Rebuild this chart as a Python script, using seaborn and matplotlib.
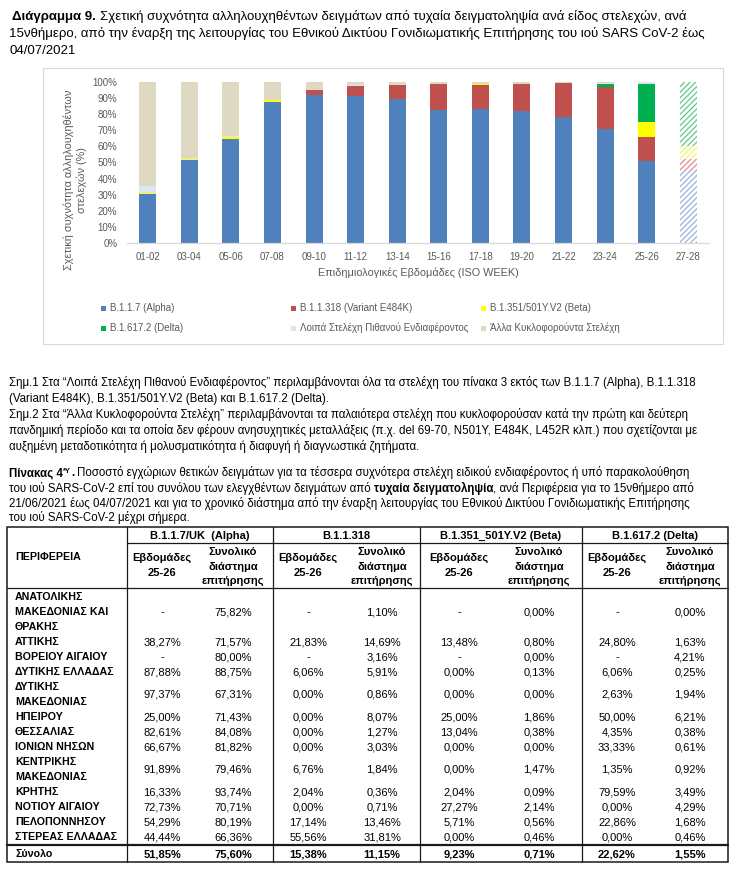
import matplotlib
matplotlib.use("Agg")
import matplotlib.pyplot as plt
from matplotlib.patches import Rectangle
import numpy as np
import pandas as pd
import seaborn as sns

# ---- chart data: share of sequenced samples per 2-week period (%) ----
weeks = ['01-02', '03-04', '05-06', '07-08', '09-10', '11-12', '13-14',
         '15-16', '17-18', '19-20', '21-22', '23-24', '25-26', '27-28']
alpha = [30.6, 51.3, 64.8, 87.6, 91.9, 91.5, 89.4, 82.6, 83.2, 82.0, 78.0, 70.8, 50.9, 44.5]
e484k = [0, 0, 0, 0, 3.3, 6.2, 8.9, 16.4, 15.1, 16.6, 21.1, 25.9, 14.7, 7.9]
beta = [0.6, 0.8, 1.0, 1.2, 0, 0, 0, 0, 0.6, 0, 0, 0.4, 9.3, 7.7]
delta = [0, 0, 0, 0, 0, 0, 0, 0, 0, 0, 0, 1.9, 23.8, 39.9]
other_interest = [4.0, 0.7, 0.7, 0.2, 0, 0.3, 0, 0, 0, 0, 0, 0.5, 1.3, 0]
other_circ = [64.8, 47.2, 33.5, 11.0, 4.8, 2.0, 1.7, 1.0, 1.1, 1.4, 0.9, 0.5, 0, 0]

series_names = ['B.1.1.7 (Alpha)', 'B.1.1.318 (Variant E484K)', 'B.1.351/501Y.V2 (Beta)',
                'B.1.617.2 (Delta)', 'Λοιπά Στελέχη Πιθανού Ενδιαφέροντος',
                'Άλλα Κυκλοφορούντα Στελέχη']
series_colors = ['#4F81BD', '#C0504D', '#FFFF00', '#00B050', '#DCE6F2', '#DDD9C3']
hatch_colors = ['#95B3D7', '#E6898A', '#F5F56A', '#5CC98E', '#DCE6F2', '#DDD9C3']

# ---- table data ----
regions = ['ΑΝΑΤΟΛΙΚΗΣ\nΜΑΚΕΔΟΝΙΑΣ ΚΑΙ\nΘΡΑΚΗΣ', 'ΑΤΤΙΚΗΣ', 'ΒΟΡΕΙΟΥ ΑΙΓΑΙΟΥ',
           'ΔΥΤΙΚΗΣ ΕΛΛΑΔΑΣ', 'ΔΥΤΙΚΗΣ\nΜΑΚΕΔΟΝΙΑΣ', 'ΗΠΕΙΡΟΥ', 'ΘΕΣΣΑΛΙΑΣ',
           'ΙΟΝΙΩΝ ΝΗΣΩΝ', 'ΚΕΝΤΡΙΚΗΣ\nΜΑΚΕΔΟΝΙΑΣ', 'ΚΡΗΤΗΣ', 'ΝΟΤΙΟΥ ΑΙΓΑΙΟΥ',
           'ΠΕΛΟΠΟΝΝΗΣΟΥ', 'ΣΤΕΡΕΑΣ ΕΛΛΑΔΑΣ']
alpha_2526 = ['-', '38,27%', '-', '87,88%', '97,37%', '25,00%', '82,61%', '66,67%',
              '91,89%', '16,33%', '72,73%', '54,29%', '44,44%']
alpha_total = ['75,82%', '71,57%', '80,00%', '88,75%', '67,31%', '71,43%', '84,08%',
               '81,82%', '79,46%', '93,74%', '70,71%', '80,19%', '66,36%']
e484k_2526 = ['-', '21,83%', '-', '6,06%', '0,00%', '0,00%', '0,00%', '0,00%',
              '6,76%', '2,04%', '0,00%', '17,14%', '55,56%']
e484k_total = ['1,10%', '14,69%', '3,16%', '5,91%', '0,86%', '8,07%', '1,27%', '3,03%',
               '1,84%', '0,36%', '0,71%', '13,46%', '31,81%']
beta_2526 = ['-', '13,48%', '-', '0,00%', '0,00%', '25,00%', '13,04%', '0,00%',
             '0,00%', '2,04%', '27,27%', '5,71%', '0,00%']
beta_total = ['0,00%', '0,80%', '0,00%', '0,13%', '0,00%', '1,86%', '0,38%', '0,00%',
              '1,47%', '0,09%', '2,14%', '0,56%', '0,46%']
delta_2526 = ['-', '24,80%', '-', '6,06%', '2,63%', '50,00%', '4,35%', '33,33%',
              '1,35%', '79,59%', '0,00%', '22,86%', '0,00%']
delta_total = ['0,00%', '1,63%', '4,21%', '0,25%', '1,94%', '6,21%', '0,38%', '0,61%',
               '0,92%', '3,49%', '4,29%', '1,68%', '0,46%']
totals = ['51,85%', '75,60%', '15,38%', '11,15%', '9,23%', '0,71%', '22,62%', '1,55%']
group_titles = ['B.1.1.7/UK  (Alpha)', 'B.1.1.318', 'B.1.351_501Y.V2 (Beta)', 'B.1.617.2 (Delta)']

W, H = 736, 872
PX = 100 / 72  # pixels per point

sns.set_theme(style="white")
plt.rcParams['font.family'] = ['Liberation Sans', 'DejaVu Sans']
plt.rcParams['hatch.linewidth'] = 0.9

fig = plt.figure(figsize=(W / 100, H / 100), dpi=100)
page = fig.add_axes([0, 0, 1, 1], zorder=0)
page.set_xlim(0, W)
page.set_ylim(H, 0)
page.axis('off')
rend = fig.canvas.get_renderer()


def write(x, y, pieces, size):
    """pieces: (text, bold, scale, rise); y is the middle of the lowercase letters"""
    for txt, bold, scale, rise in pieces:
        if txt.startswith(' '):
            x += size * PX * 0.28
            txt = txt.lstrip()
        fs = size * scale
        t = page.text(x, y + size * PX * 0.3 - rise, txt, fontsize=fs,
                      fontweight='bold' if bold else 'normal',
                      ha='left', va='baseline', color='black')
        x += t.get_window_extent(rend).width


def plain(s):
    return [(s, False, 1, 0)]


# ---- title ----
TS = 9.5
write(12, 16, [('Διάγραμμα 9.', True, 1, 0),
               (' Σχετική συχνότητα αλληλουχηθέντων δειγμάτων από τυχαία δειγματοληψία ανά είδος στελεχών, ανά', False, 1, 0)], TS)
write(9, 33.5, plain('15νθήμερο, από την έναρξη της λειτουργίας του Εθνικού Δικτύου Γονιδιωματικής Επιτήρησης του ιού SARS CoV-2 έως'), TS)
write(9, 50.5, plain('04/07/2021'), TS)

# ---- chart ----
page.add_patch(Rectangle((43, 68), 680, 276, fill=False, ec='#D9D9D9', lw=0.8))
ax = fig.add_axes([127 / W, 1 - 243 / H, 582 / W, 161 / H], zorder=1)
ax.patch.set_alpha(0)

layers = [alpha, e484k, beta, delta, other_interest, other_circ]
tops = np.cumsum(np.array(layers, dtype=float), axis=0)
for i in range(len(layers) - 1, -1, -1):
    df = pd.DataFrame({'week': weeks, 'top': tops[i]})
    n0 = len(ax.patches)
    sns.barplot(data=df, x='week', y='top', order=weeks, color=series_colors[i],
                saturation=1, width=0.41, errorbar=None, ax=ax, linewidth=0)
    last = ax.patches[n0:][-1]  # 27-28: incomplete period, hatched
    last.set_facecolor('white')
    last.set_edgecolor(hatch_colors[i])
    last.set_hatch('//////')
    last.set_linewidth(0)

ax.set_ylim(0, 100)
ax.set_yticks(range(0, 101, 10))
ax.set_yticklabels([f'{v}%' for v in range(0, 101, 10)])
for s in ['top', 'right', 'left']:
    ax.spines[s].set_visible(False)
ax.spines['bottom'].set_color('#D9D9D9')
ax.spines['bottom'].set_linewidth(0.9)
ax.tick_params(axis='both', length=0, labelsize=7, colors='#595959')
ax.tick_params(axis='x', pad=6.5)
ax.tick_params(axis='y', pad=7)
ax.set_xlabel('Επιδημιολογικές Εβδομάδες (ISO WEEK)', fontsize=7.8, color='#595959')
ax.set_ylabel('Σχετική συχνότητα αλληλουχηθέντων\nστελεχών (%)', fontsize=7.8,
              color='#595959', linespacing=1.25)
ax.xaxis.set_label_coords(0.5, -0.15)
ax.yaxis.set_label_coords(-0.069, 0.39)

# legend
leg_pos = [(103, 308), (293, 308), (483, 308), (103, 328), (293, 328), (483, 328)]
for (lx, ly), name, col in zip(leg_pos, series_names, series_colors):
    page.add_patch(Rectangle((lx - 2.5, ly - 2.5), 5.5, 5.5, fc=col, ec='none'))
    page.text(lx + 7, ly, name, fontsize=7, color='#595959', ha='left', va='center')

# ---- notes ----
NS = 8.3
notes = [
    'Σημ.1 Στα “Λοιπά Στελέχη Πιθανού Ενδιαφέροντος” περιλαμβάνονται όλα τα στελέχη του πίνακα 3 εκτός των B.1.1.7 (Alpha), B.1.1.318',
    '(Variant E484K), B.1.351/501Y.V2 (Beta) και B.1.617.2 (Delta).',
    'Σημ.2 Στα “Άλλα Κυκλοφορούντα Στελέχη” περιλαμβάνονται τα παλαιότερα στελέχη που κυκλοφορούσαν κατά την πρώτη και δεύτερη',
    'πανδημική περίοδο και τα οποία δεν φέρουν ανησυχητικές μεταλλάξεις (π.χ. del 69-70, N501Y, E484K, L452R κλπ.) που σχετίζονται με',
    'αυξημένη μεταδοτικότητα ή μολυσματικότητα ή διαφυγή ή διαγνωστικά ζητήματα.',
]
for k, s in enumerate(notes):
    write(9, 383 + 16 * k, plain(s), NS)

write(9, 473, [('Πίνακας 4', True, 1, 0), ('*Υ', True, 0.65, 3.5), ('.', True, 1, 0),
               (' Ποσοστό εγχώριων θετικών δειγμάτων για τα τέσσερα συχνότερα στελέχη ειδικού ενδιαφέροντος ή υπό παρακολούθηση', False, 1, 0)], NS)
write(9, 488.5, [('του ιού SARS-CoV-2 επί του συνόλου των ελεγχθέντων δειγμάτων από', False, 1, 0),
                 (' τυχαία δειγματοληψία', True, 1, 0),
                 (', ανά Περιφέρεια για το 15νθήμερο από', False, 1, 0)], NS)
write(9, 503.5, plain('21/06/2021 έως 04/07/2021 και για το χρονικό διάστημα από την έναρξη λειτουργίας του Εθνικού Δικτύου Γονιδιωματικής Επιτήρησης'), NS)
write(9, 517.5, plain('του ιού SARS-CoV-2 μέχρι σήμερα.'), NS)

# ---- table ----
TB = 8.0
RB = 7.7
LC = '#1a1a1a'
x_left, x_right, y_top, y_bot = 7, 728, 527, 862
page.add_patch(Rectangle((x_left, y_top), x_right - x_left, y_bot - y_top, fill=False, ec=LC, lw=1.1))
for vx in [127, 273, 420, 582]:
    page.plot([vx, vx], [y_top, y_bot], color=LC, lw=0.9)
page.plot([127, x_right], [543, 543], color=LC, lw=0.9)
page.plot([x_left, x_right], [588, 588], color=LC, lw=0.9)
page.plot([x_left, x_right], [845, 845], color=LC, lw=1.6)

group_x = [200, 346.5, 501, 655]
col_x = [162, 233, 308, 382, 459, 539, 617, 690]


def cell(x, y, s, bold=False, ha='center', size=TB):
    page.text(x, y, s, fontsize=size, fontweight='bold' if bold else 'normal',
              ha=ha, va='center', color='black')


for gx, g in zip(group_x, group_titles):
    cell(gx, 535.5, g, bold=True)
cell(15, 557, 'ΠΕΡΙΦΕΡΕΙΑ', bold=True, ha='left', size=RB)
for j, cx in enumerate(col_x):
    if j % 2 == 0:
        for k, s in enumerate(['Εβδομάδες', '25-26']):
            cell(cx, 558 + 15 * k, s, bold=True)
    else:
        for k, s in enumerate(['Συνολικό', 'διάστημα', 'επιτήρησης']):
            cell(cx, 552 + 14.5 * k, s, bold=True)

columns = [alpha_2526, alpha_total, e484k_2526, e484k_total,
           beta_2526, beta_total, delta_2526, delta_total]
line_y = 597
for r, reg in enumerate(regions):
    parts = reg.split('\n')
    for k, p in enumerate(parts):
        cell(15, line_y + 15 * k, p, bold=True, ha='left', size=RB)
    mid = line_y + 15 * (len(parts) - 1) / 2
    for cx, col in zip(col_x, columns):
        cell(cx, mid, col[r])
    line_y += 15 * len(parts)

cell(15, 854, 'Σύνολο', bold=True, ha='left', size=RB)
for cx, v in zip(col_x, totals):
    cell(cx, 854, v, bold=True)

fig.savefig('out.png', dpi=100)
